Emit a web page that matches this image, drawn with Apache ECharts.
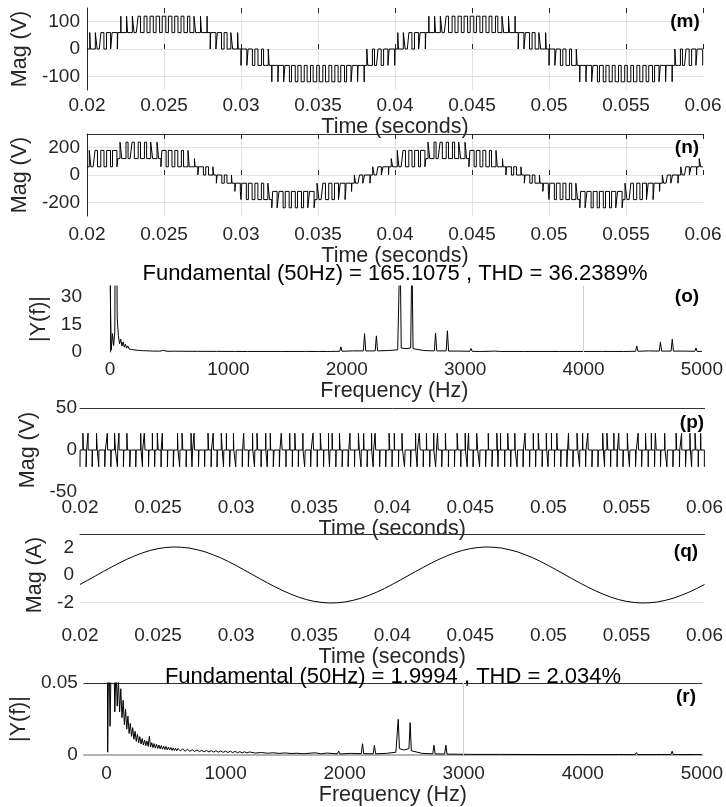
<!DOCTYPE html>
<html><head><meta charset="utf-8">
<script src="https://cdn.jsdelivr.net/npm/echarts@6/dist/echarts.min.js"></script>
<style>html,body{margin:0;padding:0;background:#fff}#c{width:726px;height:807px}</style>
</head><body><div id="c"></div>
<script>
// ---------------- DATA ----------------
// carrier period (s) and start time of the waveforms
const carrierT = 0.0004, tStart = 0.02, levelV = 60;
// (m) phase voltage: modulating value per carrier period, in level units
const mRef = [0.10,0.30,0.49,0.67,0.85,1.01,1.15,1.28,1.39,1.47,1.53,1.57,1.58,1.57,1.53,1.47,1.39,1.28,1.15,1.01,0.85,0.67,0.49,0.30,0.10,
 -0.10,-0.30,-0.49,-0.67,-0.85,-1.01,-1.15,-1.28,-1.39,-1.47,-1.53,-1.57,-1.58,-1.57,-1.53,-1.47,-1.39,-1.28,-1.15,-1.01,-0.85,-0.67,-0.49,-0.30,-0.10,
 0.10,0.30,0.49,0.67,0.85,1.01,1.15,1.28,1.39,1.47,1.53,1.57,1.58,1.57,1.53,1.47,1.39,1.28,1.15,1.01,0.85,0.67,0.49,0.30,0.10,
 -0.10,-0.30,-0.49,-0.67,-0.85,-1.01,-1.15,-1.28,-1.39,-1.47,-1.53,-1.57,-1.58,-1.57,-1.53,-1.47,-1.39,-1.28,-1.15,-1.01,-0.85,-0.67,-0.49,-0.30,-0.10];
// (n) line voltage: modulating value, low and high level per carrier period
const nRef = [1.52,1.79,2.04,2.25,2.43,2.57,2.67,2.73,2.74,2.71,2.64,2.53,2.37,2.18,1.96,1.70,1.42,1.11,0.79,0.46,0.12,-0.23,-0.57,-0.90,-1.22,
 -1.52,-1.79,-2.04,-2.25,-2.43,-2.57,-2.67,-2.73,-2.74,-2.71,-2.64,-2.53,-2.37,-2.18,-1.96,-1.70,-1.42,-1.11,-0.79,-0.46,-0.12,0.23,0.57,0.90,1.22,
 1.52,1.79,2.04,2.25,2.43,2.57,2.67,2.73,2.74,2.71,2.64,2.53,2.37,2.18,1.96,1.70,1.42,1.11,0.79,0.46,0.12,-0.23,-0.57,-0.90,-1.22,
 -1.52,-1.79,-2.04,-2.25,-2.43,-2.57,-2.67,-2.73,-2.74,-2.71,-2.64,-2.53,-2.37,-2.18,-1.96,-1.70,-1.42,-1.11,-0.79,-0.46,-0.12,0.23,0.57,0.90,1.22];
const nLo = [1,1,1,1,1,2,2,2,2,2,2,2,1,1,1,1,1,1,0,0,0,-1,-1,-1,-2,
 -3,-3,-3,-3,-3,-4,-4,-4,-4,-4,-4,-4,-3,-3,-3,-3,-3,-2,-1,-1,-1,0,0,0,1,
 1,1,1,1,1,2,2,2,2,2,2,2,1,1,1,1,1,1,0,0,0,-1,-1,-1,-2,
 -3,-3,-3,-3,-3,-4,-4,-4,-4,-4,-4,-4,-3,-3,-3,-3,-3,-2,-1,-1,-1,0,0,0,1];
const nHi = [3,3,3,3,3,4,4,4,4,4,4,4,3,3,3,3,3,2,1,1,1,0,0,0,-1,
 -1,-1,-1,-1,-1,-2,-2,-2,-2,-2,-2,-2,-1,-1,-1,-1,-1,-1,0,0,0,1,1,1,2,
 3,3,3,3,3,4,4,4,4,4,4,4,3,3,3,3,3,2,1,1,1,0,0,0,-1,
 -1,-1,-1,-1,-1,-2,-2,-2,-2,-2,-2,-2,-1,-1,-1,-1,-1,-1,0,0,0,1,1,1,2];
// (p) +20 V pulse: width and centre position; -20 V pulse: width at period edges (fractions of a carrier period)
const pStepV = 20;
const pUp = [0.08,0.02,0.12,0,0.05,0.14,0.03,0.09,0,0.06,0.11,0.02,0.15,0.04,0,0.08,0.13,0.03,0.07,0,0.10,0.05,0.16,0.02,0.06,
 0,0.09,0.04,0.12,0.02,0.07,0,0.14,0.05,0.10,0.03,0,0.08,0.13,0.02,0.06,0.11,0,0.04,0.15,0.07,0.02,0.09,0,0.12,
 0.05,0.10,0,0.03,0.14,0.06,0.02,0.11,0.08,0,0.13,0.04,0.07,0.16,0,0.05,0.10,0.02,0.12,0.06,0,0.09,0.03,0.14,0.07,
 0.02,0.11,0,0.06,0.13,0.04,0.08,0,0.10,0.15,0.03,0.07,0.12,0,0.05,0.09,0.02,0.14,0.06,0,0.11,0.04,0.08,0.13,0.03];
const pUpAt = [0.5,0.3,0.7,0.5,0.4,0.6,0.25,0.55,0.5,0.75,0.35,0.6,0.45,0.2,0.5,0.65,0.4,0.8,0.3,0.5,0.55,0.35,0.7,0.45,0.6,
 0.5,0.25,0.65,0.4,0.75,0.5,0.5,0.3,0.6,0.45,0.7,0.5,0.35,0.55,0.8,0.4,0.6,0.5,0.25,0.65,0.45,0.7,0.3,0.5,0.55,
 0.35,0.6,0.5,0.75,0.4,0.5,0.65,0.3,0.55,0.5,0.45,0.7,0.25,0.6,0.5,0.4,0.8,0.35,0.55,0.65,0.5,0.3,0.6,0.45,0.7,
 0.5,0.4,0.55,0.25,0.65,0.5,0.35,0.6,0.75,0.45,0.5,0.3,0.7,0.55,0.4,0.6,0.5,0.2,0.65,0.45,0.5,0.35,0.7,0.55,0.4];
const pDn = [0.04,0.11,0,0.07,0.13,0.02,0.09,0.05,0.15,0,0.06,0.10,0.03,0,0.12,0.08,0.02,0.14,0.05,0.09,0,0.11,0.04,0.07,0.13,
 0.02,0.08,0.12,0,0.05,0.10,0.15,0.03,0,0.09,0.06,0.13,0.02,0,0.11,0.07,0.04,0.14,0.08,0,0.05,0.12,0.03,0.10,0.06,
 0,0.09,0.13,0.04,0.07,0,0.11,0.15,0.02,0.08,0.05,0,0.12,0.03,0.10,0.06,0.14,0,0.07,0.04,0.11,0.02,0.09,0,0.13,
 0.06,0.03,0.10,0.15,0,0.08,0.05,0.12,0.02,0.07,0,0.11,0.04,0.09,0.14,0.03,0,0.10,0.06,0.12,0.02,0.08,0.13,0,0.05];
// (q) current, sampled every 0.5 ms from 0.02 s
const qStep = 0.0005;
const qVals = [-0.69,-0.38,-0.06,0.26,0.57,0.87,1.15,1.40,1.62,1.80,1.93,2.01,2.05,2.03,1.97,1.85,1.70,1.49,1.26,0.99,0.69,0.38,0.06,-0.26,-0.57,
 -0.87,-1.15,-1.40,-1.62,-1.80,-1.93,-2.01,-2.05,-2.03,-1.97,-1.85,-1.70,-1.49,-1.26,-0.99,-0.69,-0.38,-0.06,0.26,0.57,0.87,1.15,1.40,1.62,1.80,
 1.93,2.01,2.05,2.03,1.97,1.85,1.70,1.49,1.26,0.99,0.69,0.38,0.06,-0.26,-0.57,-0.87,-1.15,-1.40,-1.62,-1.80,-1.93,-2.01,-2.05,-2.03,-1.97,-1.85,
 -1.70,-1.49,-1.26,-0.99,-0.69];
// (o) spectrum: 0..400 Hz every 10 Hz, then sparse [Hz, |Y|] readings
const specStep = 10;
const oLowMag = [40,1,10,3.5,11,165,19,9,4.5,7,3.2,5.5,2.6,4.2,2.1,3.3,1.7,2.7,1.4,2.2,1.2,1.8,1.0,1.6,0.9,1.4,0.8,1.2,0.7,1.1,0.7,1.0,0.6,0.9,0.6,1.0,0.5,0.8,0.5,0.7,0.5];
const oSparse = [[420,0.45],[450,0.9],[480,0.4],[550,0.45],[650,0.4],[740,0.35],[750,0.7],[760,0.35],[900,0.35],
 [1040,0.3],[1050,0.8],[1060,0.3],[1140,0.3],[1150,0.7],[1160,0.3],[1300,0.3],[1450,0.3],[1640,0.3],[1650,0.8],[1660,0.3],
 [1740,0.3],[1750,0.8],[1760,0.3],[1840,0.3],[1850,0.7],[1860,0.3],[1940,0.4],[1950,2.8],[1960,0.4],[2050,0.6],
 [2140,0.6],[2150,10],[2160,0.6],[2240,0.6],[2250,8.8],[2260,0.6],[2350,0.8],[2430,1.2],[2440,1.8],[2450,60],[2460,2.2],
 [2500,1.8],[2540,2.2],[2550,55],[2560,1.8],[2570,1.2],[2650,0.8],[2740,0.6],[2750,10.3],[2760,0.6],[2840,0.6],[2850,11.6],
 [2860,0.5],[2950,0.5],[3040,0.4],[3050,1.9],[3060,0.35],[3140,0.3],[3150,0.6],[3160,0.3],[3250,0.5],[3300,0.3],[3500,0.3],
 [3800,0.3],[4000,0.3],[4140,0.3],[4150,0.6],[4160,0.3],[4340,0.3],[4350,1.0],[4360,0.3],[4440,0.4],[4450,3.3],[4460,0.4],
 [4550,0.6],[4640,0.5],[4650,5.5],[4660,0.5],[4740,0.5],[4750,7],[4760,0.5],[4850,0.5],[4940,0.4],[4950,2.2],[4960,0.3],[5000,0.3]];
// (r) spectrum: 0..600 Hz every 10 Hz, then sparse [Hz, |Y|] readings
const rLowMag = [0.3,0.002,0.09,0.02,0.07,2.0,0.08,0.03,0.062,0.034,0.052,0.03,0.046,0.026,0.038,0.021,0.032,0.018,0.027,0.015,0.022,0.013,0.019,0.011,0.0165,0.0095,0.0145,0.0085,0.0128,0.0077,0.0115,0.007,0.0105,0.0065,0.0098,0.006,0.013,0.0056,0.0086,0.0052,0.008,0.0049,0.0075,0.0046,0.007,0.0043,0.0066,0.0041,0.0062,0.0039,0.0059,0.0037,0.0056,0.0035,0.0053,0.0033,0.005,0.0032,0.0048,0.003,0.0046];
const rSparse = [[620,0.0029],[640,0.0043],[660,0.0027],[680,0.004],[700,0.0026],[720,0.0038],[740,0.0025],[760,0.0036],
 [780,0.0024],[800,0.0034],[820,0.0023],[840,0.0032],[860,0.0022],[880,0.0031],[900,0.0021],[920,0.003],[940,0.002],
 [960,0.0029],[980,0.0019],[1000,0.0028],[1020,0.0018],[1040,0.0027],[1060,0.0017],[1080,0.0026],[1100,0.0016],
 [1120,0.0024],[1140,0.0015],[1160,0.0023],[1180,0.0015],[1200,0.0022],[1250,0.0014],[1300,0.0018],[1350,0.0013],
 [1400,0.0016],[1450,0.0012],[1500,0.0015],[1550,0.0011],[1600,0.0013],[1640,0.001],[1650,0.0022],[1660,0.001],
 [1750,0.0016],[1800,0.0009],[1850,0.0014],[1940,0.0009],[1950,0.0028],[1960,0.0008],[2050,0.0012],[2140,0.001],
 [2150,0.0079],[2160,0.001],[2240,0.0009],[2250,0.0068],[2260,0.0009],[2350,0.0012],[2430,0.002],[2440,0.003],
 [2450,0.0248],[2460,0.0045],[2500,0.0035],[2540,0.0045],[2550,0.0225],[2560,0.003],[2570,0.002],[2650,0.0012],
 [2740,0.0009],[2750,0.0068],[2760,0.0008],[2840,0.0008],[2850,0.0069],[2860,0.0007],[2950,0.0006],[3040,0.0005],
 [3050,0.0012],[3060,0.0005],[3300,0.0005],[3600,0.0004],[4000,0.0004],[4300,0.0004],[4440,0.0004],[4450,0.0018],
 [4460,0.0004],[4640,0.0004],[4650,0.0015],[4660,0.0004],[4740,0.0004],[4750,0.0027],[4760,0.0004],[4940,0.0004],
 [4950,0.0008],[4960,0.0004],[5000,0.0004]];
// tick labels
const timeTicks = ['0.02','0.025','0.03','0.035','0.04','0.045','0.05','0.055','0.06'];
const freqTicks = [0,1000,2000,3000,4000,5000];
const titleO = 'Fundamental (50Hz) = 165.1075 , THD = 36.2389%';
const titleR = 'Fundamental (50Hz) = 1.9994 , THD = 2.034%';

// ---------------- BUILD POINTS ----------------
function pwmPoints(lo, hi, duty) {
  const pts = [];
  for (let k = 0; k < lo.length; k++) {
    const t0 = tStart + k * carrierT, d = duty[k];
    const a = t0 + carrierT * (1 - d) / 2, b = t0 + carrierT * (1 + d) / 2;
    const L = lo[k] * levelV, H = hi[k] * levelV;
    pts.push([t0, L], [a, L], [a, H], [b, H], [b, L], [t0 + carrierT, L]);
  }
  return pts;
}
const mLo = mRef.map(r => Math.floor(r));
const mPts = pwmPoints(mLo, mLo.map(v => v + 1), mRef.map((r, i) => r - mLo[i]));
const nPts = pwmPoints(nLo, nHi, nRef.map((r, i) => (r - nLo[i]) / (nHi[i] - nLo[i])));
const pPts = [];
for (let k = 0; k < pUp.length; k++) {
  const t0 = tStart + k * carrierT, t1 = t0 + carrierT;
  const d1 = pDn[k] * carrierT / 2, c = t0 + pUpAt[k] * carrierT, u = pUp[k] * carrierT / 2;
  if (d1 > 0) pPts.push([t0, -pStepV], [t0 + d1, -pStepV], [t0 + d1, 0]); else pPts.push([t0, 0]);
  if (u > 0) pPts.push([c - u, 0], [c - u, pStepV], [c + u, pStepV], [c + u, 0]);
  if (d1 > 0) pPts.push([t1 - d1, 0], [t1 - d1, -pStepV], [t1, -pStepV]); else pPts.push([t1, 0]);
}
const qPts = qVals.map((v, j) => [tStart + j * qStep, v]);
const oPts = oLowMag.map((v, i) => [i * specStep, v]).concat(oSparse);
const rPts = rLowMag.map((v, i) => [i * specStep, v]).concat(rSparse);

// ---------------- CHART ----------------
const FF = "'Liberation Sans', Arial, Helvetica, sans-serif";
const TXT = '#262626', GRID = '#e2e2e2';
const lab = (margin, extra) => Object.assign({ margin, fontSize: 19, color: TXT, fontFamily: FF }, extra || {});
const nameStyle = { fontSize: 21.5, color: TXT, fontFamily: FF };
const fmtT = v => { const s = String(Math.round(v * 1000) / 1000); return timeTicks.indexOf(s) >= 0 ? s : ''; };

function timeX(g, margin, gap, withGrid) {
  return { type: 'value', gridIndex: g, min: 0.02, max: 0.06, interval: 0.005,
    axisLine: { show: false },
    axisTick: { show: withGrid, inside: true, length: 5, lineStyle: { color: TXT } },
    axisLabel: lab(margin, { formatter: fmtT }),
    splitLine: { show: withGrid, showMinLine: false, showMaxLine: false, lineStyle: { color: GRID } },
    name: 'Time (seconds)', nameLocation: 'middle', nameGap: gap, nameTextStyle: nameStyle };
}
function topX(g, min, max, interval, line, ticks) {
  return { type: 'value', gridIndex: g, position: 'top', min, max, interval,
    axisLine: { show: line, lineStyle: { color: '#333' } },
    axisTick: { show: ticks, inside: true, length: 5, lineStyle: { color: TXT } },
    axisLabel: { show: false }, splitLine: { show: false } };
}
function freqX(g, min, margin, gap, lineShow) {
  return { type: 'value', gridIndex: g, min, max: 5000,
    axisLine: { show: lineShow, lineStyle: { color: '#b3b3b3', width: 2 } },
    axisTick: { show: false },
    axisLabel: lab(margin, { customValues: freqTicks, formatter: v => String(Math.round(v)) }),
    splitLine: { show: false },
    name: 'Frequency (Hz)', nameLocation: 'middle', nameGap: gap, nameTextStyle: nameStyle };
}
function yAx(g, o) {
  return Object.assign({ type: 'value', gridIndex: g, nameLocation: 'middle', nameTextStyle: nameStyle,
    axisTick: { show: false }, splitLine: { show: false } }, o);
}
const lineSeries = (xi, data, extra) => Object.assign({ type: 'line', xAxisIndex: xi, yAxisIndex: xi, data,
  showSymbol: false, symbol: 'none', clip: true, silent: true, animation: false,
  lineStyle: { color: '#000', width: 1 } }, extra || {});
const vMark = x => ({ silent: true, symbol: ['none', 'none'], label: { show: false }, animation: false,
  lineStyle: { color: '#cfcfcf', width: 1, type: 'solid' }, data: [{ xAxis: x }] });

const txt = (text, x, y, size, bold) => ({ type: 'text', x, y, silent: true, z: 10,
  style: { text, fill: '#000', fontSize: size, fontWeight: bold ? 'bold' : 'normal', fontFamily: FF,
    align: 'center', verticalAlign: 'middle', textAlign: 'center', textVerticalAlign: 'middle' } });

const option = {
  animation: false,
  backgroundColor: '#fff',
  grid: [
    { left: 87, top: 8, width: 616, height: 82 },
    { left: 87, top: 134, width: 616, height: 82 },
    { left: 87, top: 286, width: 617, height: 66 },
    { left: 80, top: 408, width: 626, height: 84 },
    { left: 80, top: 534, width: 626, height: 82 },
    { left: 80, top: 683, width: 626, height: 74 }
  ],
  xAxis: [
    timeX(0, 6, 24, true),
    timeX(1, 9, 25, true),
    freqX(2, -195, 8, 16, false),
    timeX(3, 6, 22, false),
    timeX(4, 10, 26, false),
    freqX(5, -190, 9, 25, true),
    topX(0, 0.02, 0.06, 0.005, false, true),
    topX(1, 0.02, 0.06, 0.005, true, true),
    topX(3, 0.02, 0.06, 0.005, true, false),
    topX(4, 0.02, 0.06, 0.005, true, false),
    topX(5, -190, 5000, null, true, false)
  ],
  yAxis: [
    yAx(0, { min: -150, max: 150, interval: 50, name: 'Mag (V)', nameGap: 48,
      axisLine: { show: true, lineStyle: { color: TXT } },
      axisLabel: lab(7, { formatter: v => (v % 100 === 0 ? String(v) : '') }),
      splitLine: { show: true, lineStyle: { color: ['transparent', GRID] } } }),
    yAx(1, { min: -300, max: 300, interval: 100, name: 'Mag (V)', nameGap: 48,
      axisLine: { show: true, lineStyle: { color: TXT } },
      axisLabel: lab(7, { formatter: v => (v % 200 === 0 ? String(v) : '') }),
      splitLine: { show: true, lineStyle: { color: ['transparent', GRID] } } }),
    yAx(2, { min: 0, max: 36, interval: 15, name: '|Y(f)|', nameGap: 29,
      axisLine: { show: true, lineStyle: { color: TXT } },
      axisLabel: lab(5, { formatter: v => (v <= 30 ? String(v) : '') }) }),
    yAx(3, { min: -50, max: 50, interval: 50, name: 'Mag (V)', nameGap: 37,
      axisLine: { show: false }, axisLabel: lab(3) }),
    yAx(4, { min: -3, max: 3, interval: 1, name: 'Mag (A)', nameGap: 27,
      axisLine: { show: false },
      axisLabel: lab(6, { formatter: v => (Math.round(v) % 2 === 0 ? String(Math.round(v)) : '') }),
      splitLine: { show: true, lineStyle: { color: ['transparent', GRID, 'transparent', 'transparent', 'transparent', 'transparent', 'transparent'] } } }),
    yAx(5, { min: 0, max: 0.05, interval: 0.05, name: '|Y(f)|', nameGap: 46,
      axisLine: { show: false }, axisLabel: lab(6) })
  ],
  series: [
    lineSeries(0, mPts),
    lineSeries(1, nPts),
    lineSeries(2, oPts, { markLine: vMark(4000) }),
    lineSeries(3, pPts),
    lineSeries(4, qPts),
    lineSeries(5, rPts, { markLine: vMark(3000) })
  ],
  graphic: [
    txt(titleO, 395, 274, 22, false),
    txt(titleR, 393, 677, 22, false),
    txt('(m)', 685, 22, 19, true),
    txt('(n)', 687, 148, 19, true),
    txt('(o)', 687, 297, 19, true),
    txt('(p)', 692, 423, 19, true),
    txt('(q)', 686, 552, 19, true),
    txt('(r)', 686, 697, 19, true)
  ]
};
const chart = echarts.init(document.getElementById('c'), null, { renderer: 'canvas' });
chart.setOption(option);
</script></body></html>
